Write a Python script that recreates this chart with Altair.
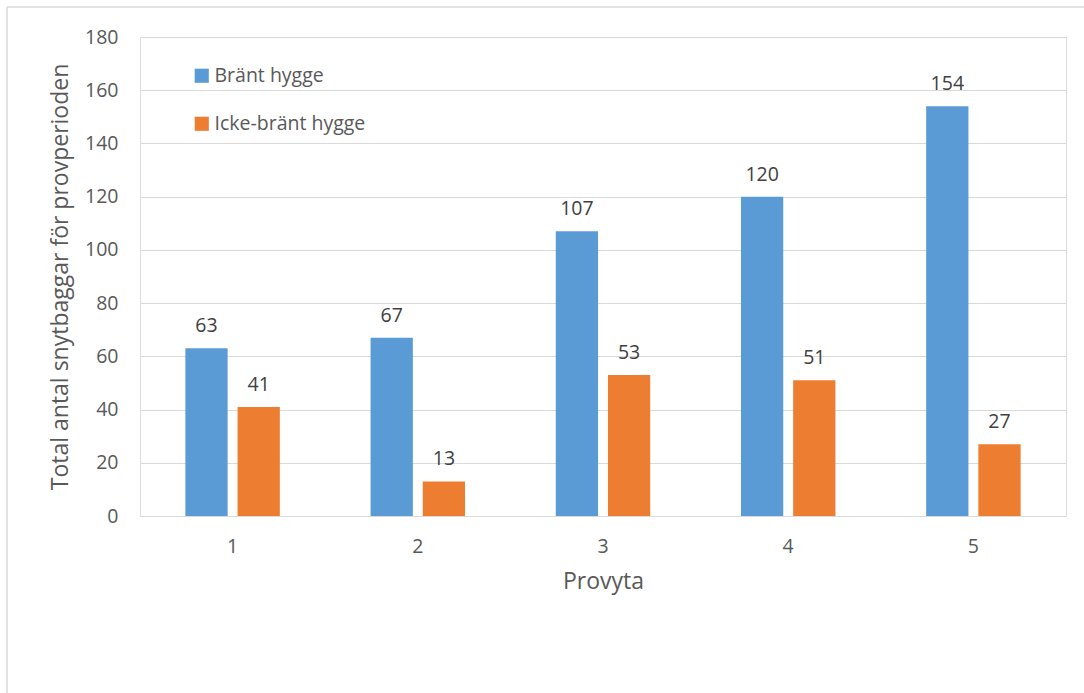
import altair as alt
import pandas as pd

provyta = ["1", "2", "3", "4", "5"]
brant = [63, 67, 107, 120, 154]
icke_brant = [41, 13, 53, 51, 27]
series_names = ["Bränt hygge", "Icke-bränt hygge"]
colors = ["#5B9BD5", "#ED7D31"]

rows = []
for i, p in enumerate(provyta):
    rows.append({"Provyta": p, "Serie": series_names[0], "Antal": brant[i]})
    rows.append({"Provyta": p, "Serie": series_names[1], "Antal": icke_brant[i]})
df = pd.DataFrame(rows)

FONT = "Open Sans"
W, H = 926, 479
LBL = 19.5
TTL = 23

base = alt.Chart(df).encode(
    x=alt.X("Provyta:N", sort=provyta,
            scale=alt.Scale(paddingInner=0.49, paddingOuter=0.245),
            axis=alt.Axis(title="Provyta", labelAngle=0, ticks=False,
                          domainColor="#D9D9D9", labelPadding=21,
                          labelFontSize=LBL, labelColor="#595959",
                          titleFontSize=TTL, titleColor="#595959",
                          titleFontWeight="normal", titlePadding=15,
                          labelFont=FONT, titleFont=FONT)),
    xOffset=alt.XOffset("Serie:N", sort=series_names,
                        scale=alt.Scale(paddingInner=0.19)),
    y=alt.Y("Antal:Q",
            scale=alt.Scale(domain=[0, 180], nice=False),
            axis=alt.Axis(title="Total antal snytbaggar för provperioden",
                          values=list(range(0, 181, 20)), ticks=False,
                          domain=False, gridColor="#D9D9D9", labelPadding=22,
                          labelFontSize=LBL, labelColor="#595959",
                          titleFontSize=TTL, titleColor="#595959",
                          titleFontWeight="normal", titlePadding=12,
                          labelFont=FONT, titleFont=FONT)),
)

bars = base.mark_bar().encode(
    color=alt.Color("Serie:N", sort=series_names,
                    scale=alt.Scale(domain=series_names, range=colors),
                    legend=alt.Legend(title=None, orient="none",
                                      legendX=52, legendY=29,
                                      symbolType="square", symbolSize=200,
                                      symbolStrokeWidth=0,
                                      labelFontSize=LBL, labelColor="#595959",
                                      labelFont=FONT, rowPadding=27,
                                      labelOffset=3))
)

labels = base.mark_text(baseline="bottom", dy=-12, fontSize=LBL,
                        color="#404040", font=FONT).encode(
    text=alt.Text("Antal:Q")
)

frame = alt.Data(values=[{}])
border_top = alt.Chart(frame).mark_rule(color="#D9D9D9", strokeWidth=1.5).encode(
    x=alt.value(-133), x2=alt.value(W + 18), y=alt.value(-30)
)
border_left = alt.Chart(frame).mark_rule(color="#D9D9D9", strokeWidth=1.5).encode(
    x=alt.value(-133), y=alt.value(-30), y2=alt.value(H + 177)
)

chart = alt.layer(border_top, border_left, bars, labels).properties(
    width=W, height=H,
    autosize=alt.AutoSizeParams(type="none"),
    padding={"left": 140, "top": 37, "right": 18, "bottom": 177},
).configure_view(stroke=None).configure(background="white")

chart.save("out.html", embed_options={"renderer": "svg", "actions": False})
